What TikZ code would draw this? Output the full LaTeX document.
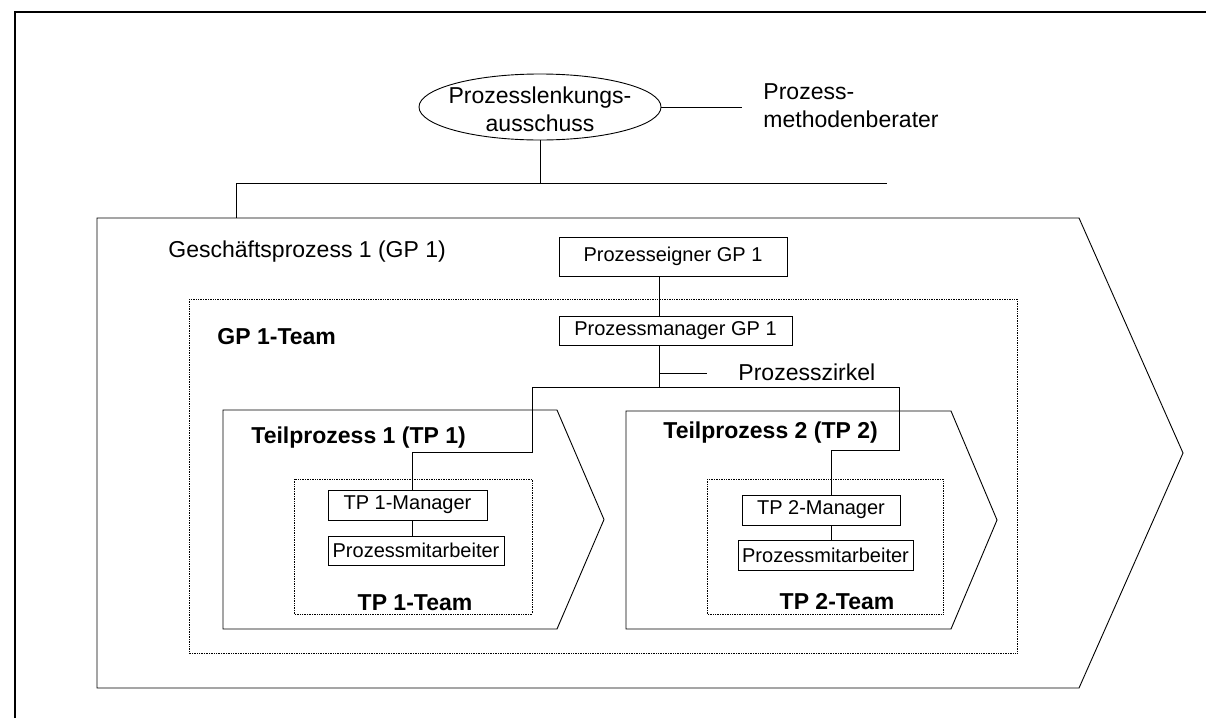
\documentclass[tikz,border=0pt]{standalone}
\usepackage{fontspec}
\setmainfont{Liberation Sans}
\usetikzlibrary{positioning,calc,shapes.geometric}

\begin{document}
\begin{tikzpicture}[x=1pt,y=-1pt,line width=0.9pt]
        \tikzstyle{box}=[draw,rectangle,inner sep=0pt,font=\fontsize{20}{24}\selectfont]
        \tikzstyle{txt}=[inner sep=0pt,align=left,font=\fontsize{23}{28}\selectfont]
        \tikzstyle{bold}=[txt,font=\fontsize{23}{28}\selectfont\bfseries]
        \tikzstyle{team}=[draw,densely dotted,line width=0.7pt]
        \tikzstyle{chevron}=[draw,line width=0.9pt]
        \useasboundingbox (0,0) rectangle (1206,718);
        \draw[line width=1.6pt] (15,718) -- (15,12) -- (1206,12);

        % steering committee
        \node[ellipse,draw,inner sep=0pt,minimum width=242pt,minimum height=66pt] (lenkung) at (540,107) {};
        \node[txt,align=center] (lenkung text) at (540,109) {Prozesslenkungs-\\ausschuss};
        \node[txt,anchor=west] (berater) at (763,106) {Prozess-\\methodenberater};
        \coordinate (berater end) at (742,107);
        \draw (lenkung.east) -- (berater end);

        \coordinate (bar w) at (236,183);
        \coordinate (bar e) at (887,183);
        \draw (bar w) -- (bar e);
        \draw (lenkung.south) -- (lenkung.south |- bar w);

        % business process
        \draw[chevron] (97,218) coordinate (gp) -- (1079,218) -- (1183,453) -- (1079,688) -- (97,688) -- cycle;
        \draw (bar w) -- (bar w |- gp);
        \node[txt,anchor=west] (gp title) at (168,252) {Geschäftsprozess 1 (GP 1)};
        \draw[team] (189,299) rectangle (1017,653);
        \node[bold,anchor=west] (gp team) at (217,337) {GP 1-Team};

        \node[box,minimum width=228pt,minimum height=39pt] (eigner) at (673,256.5) {Prozesseigner GP 1};
        \node[box,minimum width=233pt,minimum height=29pt] (manager) at (675.5,330.5) {Prozessmanager GP 1};
        \coordinate (hub) at (659,387);
        \draw (hub |- eigner.south) -- (hub |- manager.north);
        \draw (hub |- manager.south) -- (hub);
        \coordinate (zirkel stub) at (707,373);
        \draw (hub |- zirkel stub) -- (zirkel stub);
        \node[txt,anchor=west] (zirkel) at (738,372) {Prozesszirkel};
        \coordinate (hub w) at (532,387);
        \coordinate (hub e) at (899,387);
        \draw (hub w) -- (hub e);

        % sub process 1
        \draw[chevron] (223,410) -- (557,410) -- (604,519.5) -- (557,629) -- (223,629) -- cycle;
        \node[bold,anchor=west] (tp1 title) at (251,438) {Teilprozess 1 (TP 1)};
        \draw[team] (294,479) rectangle (532,614);
        \node[bold] (tp1 team) at (415,603) {TP 1-Team};
        \node[box,minimum width=159pt,minimum height=30pt] (tp1 mgr) at (407.5,505) {TP 1-Manager};
        \node[box,minimum width=176pt,minimum height=29pt] (tp1 ma) at (416,550.5) {Prozessmitarbeiter};
        \coordinate (tp1 knee) at (412,452);
        \draw (hub w) |- (tp1 knee) -- (tp1 knee |- tp1 mgr.north);
        \draw (tp1 knee |- tp1 mgr.south) -- (tp1 knee |- tp1 ma.north);

        % sub process 2
        \draw[chevron] (626,411) -- (951,411) -- (997,520) -- (951,629) -- (626,629) -- cycle;
        \node[bold,anchor=west] (tp2 title) at (663,433) {Teilprozess 2 (TP 2)};
        \draw[team] (707,479) rectangle (943,614);
        \node[bold] (tp2 team) at (837,602) {TP 2-Team};
        \node[box,minimum width=158pt,minimum height=30pt] (tp2 mgr) at (821,510) {TP 2-Manager};
        \node[box,minimum width=175pt,minimum height=30pt] (tp2 ma) at (825.5,555) {Prozessmitarbeiter};
        \coordinate (tp2 knee) at (831,450);
        \draw (hub e) |- (tp2 knee) -- (tp2 knee |- tp2 mgr.north);
        \draw (tp2 knee |- tp2 mgr.south) -- (tp2 knee |- tp2 ma.north);
    \end{tikzpicture}
\end{document}
